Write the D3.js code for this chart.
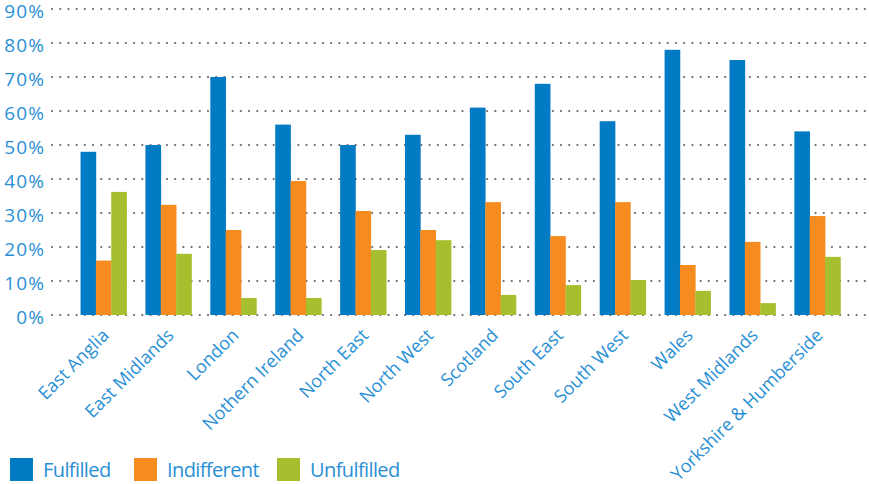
<!DOCTYPE html>
<html><head><meta charset="utf-8">
<script src="https://cdn.jsdelivr.net/npm/d3@7"></script>
<style>body{margin:0;background:#fff}svg{display:block}text{font-family:"Open Sans","Noto Sans",sans-serif}</style>
</head><body><svg id="c" width="869" height="484"></svg>
<script>
const categories = ["East Anglia","East Midlands","London","Nothern Ireland","North East","North West","Scotland","South East","South West","Wales","West Midlands","Yorkshire & Humberside"];
const seriesNames = ["Fulfilled","Indifferent","Unfulfilled"];
const fulfilled   = [48, 50, 70, 56, 50, 53, 61, 68, 57, 78, 75, 54];
const indifferent = [16, 32.4, 25, 39.4, 30.6, 25, 33.2, 23.2, 33.2, 14.7, 21.5, 29.1];
const unfulfilled = [36.2, 18, 5, 5, 19.1, 22, 5.9, 8.8, 10.3, 7.1, 3.5, 17.1];
const yTicks = [0,10,20,30,40,50,60,70,80,90];
const colors = ["#007BC4","#F68B1F","#A6BF2F"];
const textColor = "#2A90D5";

const svg = d3.select("#c");
const series = [fulfilled, indifferent, unfulfilled];
const y = d3.scaleLinear().domain([0,90]).range([315,9]);
const x = d3.scaleBand().domain(categories).range([52,869]).paddingInner(0.29).paddingOuter(0.44);
const xs = d3.scaleBand().domain(seriesNames).range([0,x.bandwidth()]);

// grid
svg.append("g").selectAll("line").data(yTicks).join("line")
  .attr("x1",52).attr("x2",869).attr("y1",d=>y(d)).attr("y2",d=>y(d))
  .attr("stroke","#666").attr("stroke-width",2.2).attr("stroke-linecap","round")
  .attr("stroke-dasharray","0.01 8.2");

// y labels
const yAxis = d3.axisLeft(y).tickValues(yTicks).tickFormat(d=>d+"%").tickSize(0).tickPadding(0);
const ya = svg.append("g").attr("transform","translate(45,0)").call(yAxis);
ya.select(".domain").remove();
ya.selectAll("text").attr("fill",textColor).style("font-size","19px").style("letter-spacing","1.1px")
  .style("font-family",'"Open Sans","Noto Sans",sans-serif').attr("dy","0.44em");

// bars
const g = svg.append("g");
categories.forEach((c,i)=>{
  seriesNames.forEach((s,j)=>{
    g.append("rect").attr("x",x(c)+xs(s)).attr("width",xs.bandwidth()+0.3)
      .attr("y",y(series[j][i])).attr("height",y(0)-y(series[j][i])).attr("fill",colors[j]);
  });
});

// x labels
const xa = svg.append("g").attr("transform","translate(0,326)")
  .call(d3.axisBottom(x).tickSize(0).tickPadding(0));
xa.select(".domain").remove();
xa.selectAll("text").attr("fill",textColor).style("font-size","18px")
  .style("font-family",'"Open Sans","Noto Sans",sans-serif')
  .attr("text-anchor","end").attr("dy","0.35em").attr("dx",0).attr("y",0)
  .attr("transform","translate(2,6) rotate(-45)");

// legend
const lx = [10,134,277];
const leg = svg.append("g").selectAll("g").data(seriesNames).join("g")
  .attr("transform",(d,i)=>`translate(${lx[i]},458)`);
leg.append("rect").attr("width",23).attr("height",23).attr("fill",(d,i)=>colors[i]);
leg.append("text").attr("x",33).attr("y",19).text(d=>d).attr("fill",textColor)
  .style("font-size","20px").style("letter-spacing","-0.6px");
</script></body></html>
